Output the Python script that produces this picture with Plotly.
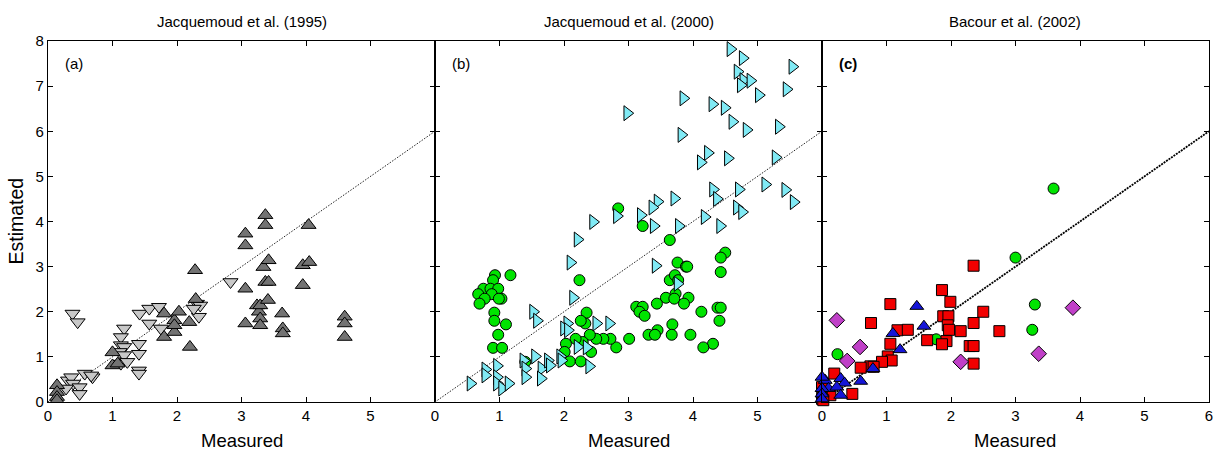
import plotly.graph_objects as go

# ---------------- Data ----------------
panel_titles = ["Jacquemoud et al. (1995)", "Jacquemoud et al. (2000)", "Bacour et al. (2002)"]
panel_labels = ["(a)", "(b)", "<b>(c)</b>"]
x_tick_vals = [0, 1, 2, 3, 4, 5]
x_tick_vals_c = [0, 1, 2, 3, 4, 5, 6]
y_tick_vals = [0, 1, 2, 3, 4, 5, 6, 7, 8]
one_to_one = [0, 6]

# Panel (a) dark grey up-triangles
a_up_x = [0.14, 0.14, 0.14, 0.14, 1.0, 1.0, 1.08, 1.8, 1.8, 1.96, 1.96, 2.03, 1.96, 2.19, 2.2, 2.28, 2.29,
          3.06, 3.06, 3.06, 3.06, 3.24, 3.27, 3.29, 3.29, 3.29, 3.34, 3.37, 3.37, 3.42, 3.37, 3.42, 3.41,
          3.63, 3.64, 3.64, 3.95, 3.95, 4.04, 4.05, 4.6, 4.6, 4.6]
a_up_y = [0.37, 0.22, 0.11, 0.04, 1.1, 0.81, 0.85, 1.96, 1.44, 1.81, 1.55, 2.0, 1.7, 1.77, 1.22, 2.92, 2.28,
          3.73, 3.47, 2.51, 1.74, 2.14, 2.0, 2.14, 1.85, 1.7, 2.99, 4.14, 3.92, 3.14, 2.66, 2.66, 2.26,
          1.96, 1.63, 1.52, 3.03, 2.59, 3.92, 3.1, 1.89, 1.74, 1.44]
# Panel (a) light grey down-triangles
a_dn_x = [0.38, 0.46, 0.31, 0.36, 0.39, 0.28, 0.49, 0.49, 0.57, 0.69, 0.67, 1.18, 1.13, 1.13, 1.18, 1.11,
          1.18, 1.13, 1.23, 1.41, 1.41, 1.41, 1.41, 1.42, 1.57, 1.57, 1.72, 1.75, 2.31, 2.36, 2.34, 2.26, 2.83]
a_dn_y = [1.96, 1.77, 0.48, 0.55, 0.41, 0.3, 0.33, 0.18, 0.63, 0.55, 0.59, 1.63, 1.44, 1.26, 1.22, 1.11,
          1.04, 0.85, 0.89, 1.29, 1.07, 0.7, 0.63, 1.96, 2.07, 1.74, 2.11, 1.63, 2.18, 2.14, 1.89, 2.07, 2.66]

# Panel (b) cyan right-triangles
b_tri_x = [4.58, 4.77, 4.69, 4.78, 4.89, 4.74, 5.54, 5.45, 5.02, 3.85, 4.30, 4.49, 2.98, 4.61, 4.83, 5.33,
           3.82, 4.23, 4.12, 4.54, 5.28, 5.12, 4.31, 4.71, 5.43, 4.37, 5.56, 4.68, 4.76, 3.71, 3.45, 3.37,
           3.19, 2.82, 2.45, 3.39, 3.78, 4.18, 4.42, 2.21, 2.10, 3.42, 3.76, 2.14, 1.52, 1.58, 2.05, 2.00,
           2.06, 2.50, 2.70, 2.21, 2.35, 2.39, 0.55, 0.78, 0.78, 0.96, 0.96, 0.96, 1.04, 1.14, 1.37, 1.40,
           1.40, 1.55, 1.65, 1.64, 1.75, 1.78, 1.94, 1.96]
b_tri_y = [7.82, 7.62, 7.32, 7.13, 7.12, 7.02, 7.43, 6.93, 6.80, 6.73, 6.60, 6.52, 6.40, 6.21, 6.03, 6.10,
           5.92, 5.52, 5.31, 5.40, 5.42, 4.82, 4.71, 4.71, 4.70, 4.50, 4.43, 4.31, 4.21, 4.51, 4.44, 4.31,
           4.14, 4.12, 3.99, 3.90, 3.90, 4.10, 3.90, 3.60, 3.09, 3.02, 2.62, 2.31, 2.00, 1.80, 1.74, 1.63,
           1.59, 1.74, 1.74, 1.22, 1.21, 0.79, 0.41, 0.72, 0.59, 0.80, 0.55, 0.41, 0.30, 0.41, 0.92, 0.74,
           0.55, 1.01, 0.74, 0.52, 0.92, 0.81, 1.01, 0.92]
# Panel (b) green circles
b_cir_x = [2.84, 3.22, 3.64, 3.76, 3.89, 3.91, 4.50, 4.43, 4.43, 3.64, 3.72, 3.77, 3.73, 3.58, 3.71, 3.93,
           3.86, 3.44, 3.12, 3.22, 3.17, 3.25, 4.13, 4.38, 4.43, 4.41, 3.68, 3.45, 3.31, 3.41, 3.67, 3.96,
           4.31, 4.16, 3.01, 2.81, 2.72, 2.61, 2.50, 2.40, 2.33, 2.35, 2.26, 2.24, 2.29, 2.18, 2.03, 2.01,
           2.42, 2.09, 2.26, 1.40, 0.93, 0.90, 1.17, 0.75, 0.86, 0.98, 0.67, 0.88, 0.77, 1.03, 0.99, 0.69,
           0.92, 0.92, 1.10, 0.98, 0.90, 1.04]
b_cir_y = [4.29, 3.90, 3.59, 3.09, 3.00, 3.00, 3.31, 3.20, 2.88, 2.70, 2.81, 2.70, 2.40, 2.31, 2.29, 2.31,
           2.18, 2.18, 2.11, 2.11, 2.00, 1.91, 2.00, 2.09, 2.09, 1.80, 1.72, 1.59, 1.49, 1.49, 1.49, 1.49,
           1.29, 1.21, 1.40, 1.21, 1.40, 1.40, 1.40, 1.49, 1.74, 1.98, 1.80, 2.70, 1.33, 1.40, 1.29, 1.11,
           1.11, 0.90, 0.90, 0.89, 2.81, 2.70, 2.81, 2.51, 2.51, 2.51, 2.39, 2.39, 2.29, 2.29, 2.29, 2.18,
           1.98, 1.80, 1.72, 1.49, 1.20, 1.20]

# Panel (c) red squares
c_sq_x = [2.35, 1.86, 1.99, 1.06, 2.50, 1.88, 1.96, 0.76, 2.35, 1.95, 1.97, 1.17, 1.33, 2.15, 2.75, 1.63,
          1.93, 1.86, 2.29, 2.35, 1.06, 2.35, 1.02, 1.08, 0.93, 0.75, 0.60, 0.80, 0.19, 0.47, 0.13, 0.0,
          0.0, 0.02]
c_sq_y = [3.02, 2.48, 2.22, 2.17, 2.00, 1.90, 1.90, 1.75, 1.75, 1.70, 1.60, 1.59, 1.60, 1.57, 1.57, 1.37,
          1.35, 1.28, 1.24, 1.24, 1.29, 0.85, 1.01, 0.92, 0.89, 0.79, 0.76, 0.78, 0.63, 0.18, 0.15, 0.07,
          0.33, 0.04]
# Panel (c) blue up-triangles
c_tri_x = [1.47, 1.58, 1.10, 1.21, 0.79, 0.60, 0.29, 0.35, 0.05, 0.0, 0.10, 0.23, 0.29, 0.0, 0.0, 0.0]
c_tri_y = [2.12, 1.68, 1.52, 1.16, 0.74, 0.46, 0.52, 0.42, 0.48, 0.55, 0.30, 0.33, 0.15, 0.30, 0.18, 0.07]
# Panel (c) green circles
c_cir_x = [3.59, 3.00, 3.30, 3.26, 1.77, 0.24, 0.0]
c_cir_y = [4.73, 3.20, 2.16, 1.60, 1.39, 1.06, 0.33]
# Panel (c) magenta diamonds
c_dia_x = [3.89, 0.23, 0.59, 0.39, 2.15, 3.36]
c_dia_y = [2.09, 1.81, 1.22, 0.91, 0.89, 1.07]

# ---------------- Figure ----------------
fig = go.Figure()
mline = dict(color="black", width=1)

def add(x, y, axis, symbol, color, size, clip=True):
    fig.add_trace(go.Scatter(x=x, y=y, mode="markers", xaxis="x" + axis, yaxis="y" + axis,
                             cliponaxis=clip, showlegend=False,
                             marker=dict(symbol=symbol, color=color, size=size, line=mline)))

# 1:1 lines
for ax, col, w, dash in [("", "#222222", 1, "1.5px,1.5px"), ("2", "#222222", 1, "1.5px,1.5px"),
                         ("3", "#000000", 1.8, "2px,1px")]:
    fig.add_trace(go.Scatter(x=one_to_one, y=one_to_one, mode="lines", xaxis="x" + ax, yaxis="y" + ax,
                             showlegend=False, line=dict(color=col, width=w, dash=dash)))

add(a_dn_x, a_dn_y, "", "triangle-down", "#c8c8c8", 13)
add(a_up_x, a_up_y, "", "triangle-up", "#737373", 13)
add(b_cir_x, b_cir_y, "2", "circle", "#00e400", 11)
add(b_tri_x, b_tri_y, "2", "triangle-right", "#80eaf5", 13)
add(c_cir_x, c_cir_y, "3", "circle", "#00e400", 11, clip=False)
add(c_sq_x, c_sq_y, "3", "square", "#f20000", 11, clip=False)
add(c_dia_x, c_dia_y, "3", "diamond", "#c040c8", 12, clip=False)
add(c_tri_x, c_tri_y, "3", "triangle-up", "#1515d8", 12, clip=False)

font = "Liberation Sans, Arial, sans-serif"
tfont = dict(size=15, color="black", family=font)
axcommon = dict(range=[0, 6], showgrid=False, zeroline=False, showline=True, linecolor="black",
                linewidth=1.2, mirror="ticks", ticks="inside", ticklen=5, tickcolor="black",
                tickfont=tfont)
ycommon = dict(range=[0, 8], showgrid=False, zeroline=False, showline=True, linecolor="black",
               linewidth=1.2, mirror="ticks", ticks="inside", ticklen=5, tickcolor="black",
               tickvals=y_tick_vals, tickfont=tfont)

doms = [[0, 1 / 3], [1 / 3, 2 / 3], [2 / 3, 1]]
layout = dict(
    width=1219, height=450, plot_bgcolor="white", paper_bgcolor="white",
    margin=dict(l=48, r=6, t=41, b=48),
    font=dict(family=font, color="black"),
    xaxis=dict(axcommon, domain=doms[0], anchor="y", tickvals=x_tick_vals),
    xaxis2=dict(axcommon, domain=doms[1], anchor="y2", tickvals=x_tick_vals),
    xaxis3=dict(axcommon, domain=doms[2], anchor="y3", tickvals=x_tick_vals_c),
    yaxis=dict(ycommon, anchor="x"),
    yaxis2=dict(ycommon, anchor="x2", showticklabels=False),
    yaxis3=dict(ycommon, anchor="x3", showticklabels=False),
)
fig.update_layout(**layout)

ann = []
for i, d in enumerate(doms):
    c = (d[0] + d[1]) / 2
    ann.append(dict(x=c, y=1, xref="paper", yref="paper", xanchor="center", yanchor="bottom", yshift=9,
                    showarrow=False, text=panel_titles[i], font=dict(size=15, family=font, color="black")))
    ann.append(dict(x=c, y=0, xref="paper", yref="paper", xanchor="center", yanchor="top", yshift=-26,
                    showarrow=False, text="Measured", font=dict(size=18.5, family=font, color="black")))
    axs = "" if i == 0 else str(i + 1)
    ann.append(dict(x=0.24, y=7.5, xref="x" + axs, yref="y" + axs, xanchor="left", showarrow=False,
                    text=panel_labels[i], font=dict(size=15, family=font, color="black")))
ann.append(dict(x=0, y=0.5, xref="paper", yref="paper", xanchor="right", xshift=-20, showarrow=False,
                textangle=-90, text="Estimated", font=dict(size=19.5, family=font, color="black")))
fig.update_layout(annotations=ann)

fig.write_html("out.html")
